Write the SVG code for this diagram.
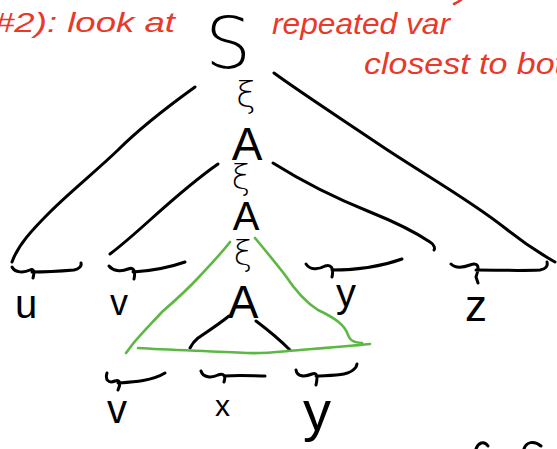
<svg xmlns="http://www.w3.org/2000/svg" width="557" height="449" viewBox="0 0 557 449">
<style>
.k{fill:none;stroke:#000;stroke-width:3;stroke-linecap:round;stroke-linejoin:round}
.g{fill:none;stroke:#5cb842;stroke-width:2.6;stroke-linecap:round;stroke-linejoin:round}
.r{fill:none;stroke:#e8392a;stroke-width:2.6;stroke-linecap:round}
.rt{fill:#e8392a;font-family:"Liberation Sans",sans-serif;font-style:italic}
.bt{fill:#000;font-family:"Liberation Sans",sans-serif}
.lt{fill:#000;font-family:"DejaVu Sans","Liberation Sans",sans-serif;font-weight:200}
</style>
<rect width="557" height="449" fill="#fff"/>
<g id="notes">
<text class="rt" x="-6" y="32" font-size="28" textLength="181" lengthAdjust="spacingAndGlyphs">#2): look at</text>
<text class="rt" x="272" y="34" font-size="30" textLength="178" lengthAdjust="spacingAndGlyphs">repeated var</text>
<text class="rt" x="364" y="74" font-size="30" textLength="200" lengthAdjust="spacingAndGlyphs">closest to bot</text>
<path class="r" d="M454,4 Q458,2 461,0"/>
</g>
<g id="connectors">
<path class="k" d="M195,87 C170,105 140,128 118,150 C95,172 70,192 50,212 C32,230 18,245 12,262"/>
<path class="k" d="M274,73 C300,92 340,118 380,145 C420,172 470,200 505,228 C530,248 548,258 555,262"/>
<path class="k" d="M218,164 C195,180 170,202 150,220 C130,238 118,248 110,254"/>
<path class="k" d="M273,163 C300,180 335,198 370,212 C400,224 418,234 430,242 C435,245 435,249 434,250"/>
<path class="k" d="M229,316 C218,325 205,333 198,338 C193,342 191,346 190,348"/>
<path class="k" d="M256,321 C268,330 282,342 290,350"/>
<path class="g" d="M230,242 C220,255 210,265 198,278 C185,292 170,305 162,312 C150,325 140,335 132,345 L126,353"/>
<path class="g" d="M255,238 C265,250 275,262 285,275 C295,290 305,302 318,310 C335,318 345,325 348,335 C350,340 352,342 362,343"/>
<path class="g" d="M138,348 C170,350 210,351 247,353 C265,354 285,351 300,350 C325,348 350,346 370,344"/>
</g>
<g id="S"><text class="lt" x="228" y="68" font-size="72" text-anchor="middle">S</text></g>
<g id="d1"><text class="lt" x="246" y="107" font-size="36" text-anchor="middle">ξ</text></g>
<g id="A1"><text class="bt" x="247" y="160" font-size="46" text-anchor="middle">A</text></g>
<g id="d2"><text class="lt" x="241" y="189" font-size="34" text-anchor="middle">ξ</text></g>
<g id="A2"><text class="bt" x="246" y="230" font-size="40" text-anchor="middle">A</text></g>
<g id="d3"><text class="lt" x="243" y="265" font-size="34" text-anchor="middle">ξ</text></g>
<g id="A3"><text class="bt" x="243" y="318" font-size="46" text-anchor="middle">A</text></g>
<g id="braces">
<path class="k" d="M12,267 C15,273 24,273 30,270 C33,268 35,271 33,278 M32,272 C45,272 62,271 74,270 C79,269 82,266 81,263"/>
<path class="k" d="M109,266 C113,271 121,272 128,269 C133,267 136,270 134,279 M133,272 C150,271 165,269 185,262"/>
<path class="k" d="M306,264 C310,270 318,270 325,266 C331,264 334,268 332,277 M332,270 C355,270 380,267 402,259"/>
<path class="k" d="M451,264 C455,268 462,268 470,265 C478,262 480,266 476,277 L478,283 M476,270 C495,270 520,271 540,270 C546,269 548,266 547,262"/>
<path class="k" d="M107,373 C105,379 108,384 115,381 C120,379 121,383 118,390 M118,383 C133,382 152,381 165,373"/>
<path class="k" d="M201,371 C203,378 212,378 218,375 C224,373 226,376 224,382 M224,376 C240,375 255,376 265,376"/>
<path class="k" d="M296,370 C297,377 305,377 312,374 C317,372 318,376 316,385 M316,376 C335,375 350,376 356,367 L357,364"/>
</g>
<g id="u"><text class="bt" x="15" y="318" font-size="40">u</text></g>
<g id="v1"><text class="bt" x="110" y="315" font-size="36">v</text></g>
<g id="y1"><text class="bt" x="336" y="307" font-size="40">y</text></g>
<g id="z"><text class="bt" x="465" y="321" font-size="44">z</text></g>
<g id="v2"><text class="bt" x="107" y="423" font-size="40">v</text></g>
<g id="x"><text class="bt" x="215" y="416" font-size="30">x</text></g>
<g id="y2"><text class="bt" x="303" y="430" font-size="56">y</text></g>
<g id="partial">
<path class="k" d="M476,449 C478,443 484,440 488,446"/>
<path class="k" d="M524,449 C526,442 534,440 541,446"/>
</g>
</svg>
